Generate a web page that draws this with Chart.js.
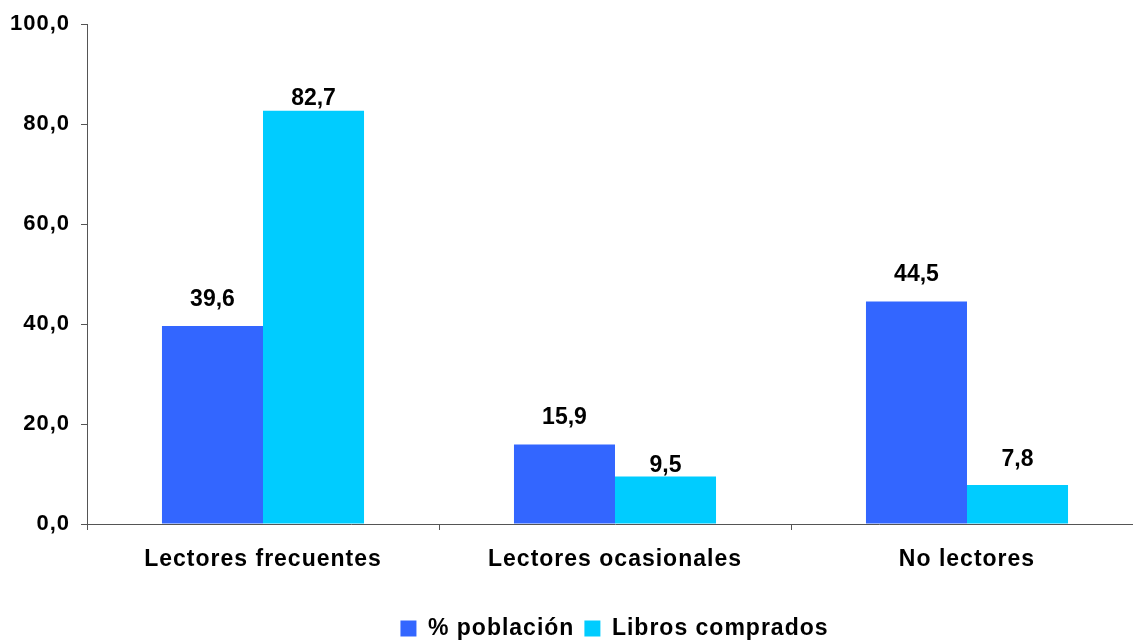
<!DOCTYPE html>
<html>
<head>
<meta charset="utf-8">
<script src="https://cdn.jsdelivr.net/npm/chart.js@4"></script>
<style>
  html, body { margin: 0; padding: 0; background: #fff; overflow: hidden; }
  #wrap { position: relative; width: 1150px; height: 641px; }
</style>
</head>
<body>
<div id="wrap"><canvas id="lectoresChart"></canvas></div>
<script>
// Lectores y libros comprados (%)

const categories = ['Lectores frecuentes', 'Lectores ocasionales', 'No lectores'];
const poblacion = [39.6, 15.9, 44.5];
const librosComprados = [82.7, 9.5, 7.8];
const yTickValues = [0, 20, 40, 60, 80, 100];

const FONT = '"Liberation Sans", Arial, Helvetica, sans-serif';
const AXIS_COLOR = '#555';

function fmt(v) {
    return v.toFixed(1).replace('.', ',');
}

// wider letter spacing like the original (reset by canvas resize, so set each time)
const spacingPlugin = {
    id: 'spacing',
    beforeLayout(chart) { chart.ctx.letterSpacing = '1px'; },
    beforeDraw(chart) { chart.ctx.letterSpacing = '1px'; },
    afterLayout(chart, args, opts) {
        // legend sits a bit right of centre and lower in the original
        const lg = chart.legend;
        if (lg) {
            lg.left += opts.shiftX; lg.right += opts.shiftX;
            lg.top += opts.shiftY; lg.bottom += opts.shiftY;
        }
    }
};

// value labels above each bar
const barValues = {
    id: 'barValues',
    afterDatasetsDraw(chart, args, opts) {
        const ctx = chart.ctx;
        ctx.save();
        ctx.letterSpacing = '0px';
        ctx.font = 'bold 23px ' + FONT;
        ctx.fillStyle = '#000';
        ctx.textAlign = 'center';
        ctx.textBaseline = 'alphabetic';
        chart.data.datasets.forEach((ds, di) => {
            const meta = chart.getDatasetMeta(di);
            meta.data.forEach((bar, i) => {
                const gap = opts.gaps[di][i];
                ctx.fillText(fmt(ds.data[i]), bar.x, bar.y - gap);
            });
        });
        ctx.restore();
    }
};

window.addEventListener('DOMContentLoaded', () => {
    const ctx = document.getElementById('lectoresChart').getContext('2d');
    new Chart(ctx, {
        type: 'bar',
        data: {
            labels: categories,
            datasets: [{
                label: '% población',
                data: poblacion,
                backgroundColor: '#3366FF',
                borderWidth: 0,
                barPercentage: 1,
                categoryPercentage: 0.574
            }, {
                label: 'Libros comprados',
                data: librosComprados,
                backgroundColor: '#00CCFF',
                borderWidth: 0,
                barPercentage: 1,
                categoryPercentage: 0.574
            }]
        },
        options: {
            responsive: true,
            maintainAspectRatio: false,
            animation: false,
            layout: {
                padding: { left: 0, right: 7, top: 24, bottom: 0 }
            },
            plugins: {
                tooltip: { enabled: false },
                legend: {
                    position: 'bottom',
                    labels: {
                        boxWidth: 16,
                        boxHeight: 16,
                        padding: 10,
                        color: '#000',
                        font: { family: FONT, size: 23, weight: 'bold' }
                    }
                },
                spacing: { shiftX: 43, shiftY: 9 },
                barValues: { gaps: [[20, 21, 21], [6, 5, 19]] }
            },
            scales: {
                x: {
                    offset: true,
                    grid: {
                        display: true,
                        offset: true,
                        drawOnChartArea: false,
                        drawTicks: true,
                        tickLength: 6,
                        color: AXIS_COLOR
                    },
                    border: { display: true, color: AXIS_COLOR, width: 1 },
                    ticks: {
                        color: '#000',
                        padding: 16,
                        maxRotation: 0,
                        font: { family: FONT, size: 23, weight: 'bold' }
                    },
                    afterFit(scale) { scale.height = 74; }
                },
                y: {
                    min: 0,
                    max: 100,
                    afterBuildTicks(scale) {
                        scale.ticks = yTickValues.map(v => ({ value: v }));
                    },
                    grid: {
                        display: true,
                        drawOnChartArea: false,
                        drawTicks: true,
                        tickLength: 6,
                        color: AXIS_COLOR
                    },
                    border: { display: true, color: AXIS_COLOR, width: 1 },
                    ticks: {
                        color: '#000',
                        padding: 11,
                        callback: (v) => fmt(v),
                        font: { family: FONT, size: 22, weight: 'bold' }
                    },
                    afterFit(scale) { scale.width = 87; }
                }
            }
        },
        plugins: [spacingPlugin, barValues]
    });
});
</script>
</body>
</html>
